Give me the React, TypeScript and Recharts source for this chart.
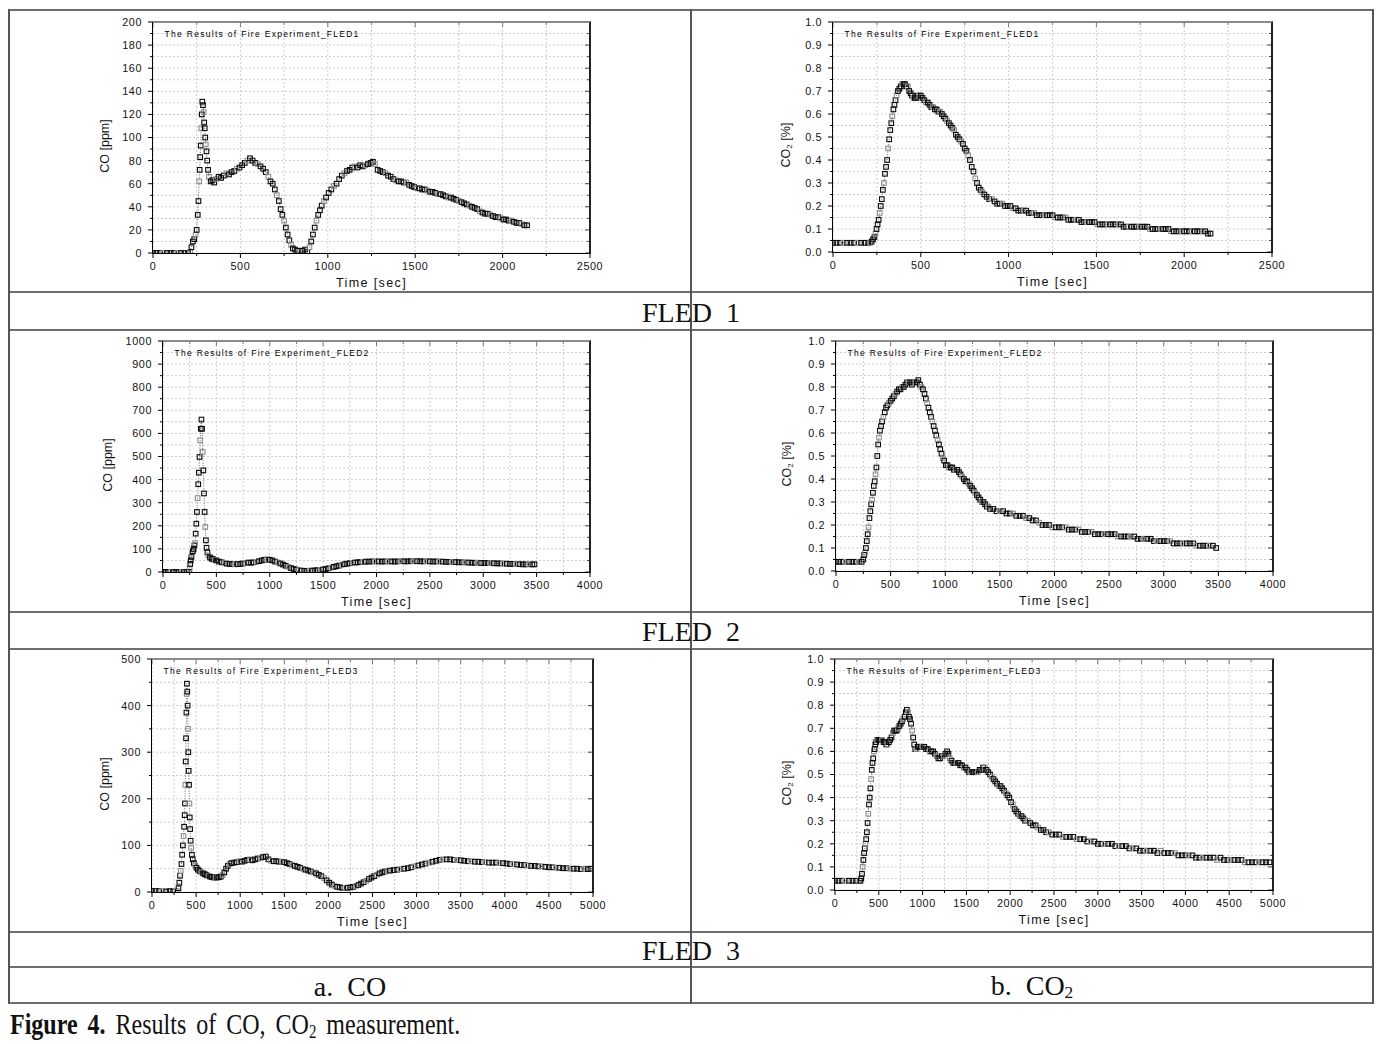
import { LineChart, Line, XAxis, YAxis, CartesianGrid } from "recharts";

type Pt = [number, number];

// time [sec], CO [ppm] / CO2 [%]
const fled1Co: Pt[] = [
  [0, 0], [20, 0], [40, 0], [60, 0], [80, 0], [100, 0], [120, 0], [140, 0], [160, 0], [180, 0], [200, 0], [212, 1],
  [220, 5], [228, 10], [236, 12], [244, 16], [250, 20], [256, 33], [260, 45], [264, 62], [267, 72], [270, 83],
  [273, 93], [276, 108], [279, 120], [282, 131], [286, 128], [290, 122], [293, 113], [296, 108], [299, 100],
  [302, 94], [306, 88], [310, 80], [315, 72], [320, 66], [330, 62], [340, 63], [350, 61], [360, 64], [375, 66],
  [390, 65], [405, 67], [420, 69], [435, 68], [450, 70], [465, 71], [480, 73], [495, 74], [510, 76], [525, 78],
  [540, 80], [555, 82], [570, 80], [585, 78], [600, 77], [615, 75], [630, 73], [645, 70], [660, 66], [672, 62],
  [685, 60], [697, 55], [708, 50], [720, 45], [730, 38], [740, 33], [750, 28], [760, 22], [770, 16], [780, 11],
  [790, 7], [800, 4], [812, 3], [825, 2], [840, 1], [855, 2], [870, 3], [883, 1], [895, 5], [905, 10], [915, 16],
  [925, 22], [935, 28], [945, 33], [955, 37], [965, 41], [978, 45], [990, 48], [1005, 52], [1020, 55], [1035, 58],
  [1050, 60], [1065, 64], [1080, 67], [1095, 69], [1110, 71], [1125, 72], [1140, 74], [1155, 75], [1170, 74],
  [1185, 76], [1200, 75], [1215, 76], [1230, 77], [1245, 78], [1258, 79], [1270, 77], [1285, 72], [1300, 71],
  [1315, 70], [1330, 69], [1345, 67], [1360, 66], [1375, 64], [1390, 63], [1405, 62], [1420, 62], [1435, 61],
  [1450, 61], [1465, 59], [1480, 58], [1495, 57], [1510, 56], [1525, 56], [1540, 55], [1555, 55], [1570, 54],
  [1585, 53], [1600, 53], [1615, 52], [1630, 51], [1645, 51], [1660, 50], [1675, 49], [1690, 48], [1705, 48],
  [1720, 47], [1735, 46], [1750, 45], [1765, 44], [1780, 43], [1795, 42], [1810, 41], [1825, 40], [1840, 39],
  [1855, 38], [1870, 36], [1885, 35], [1900, 34], [1915, 34], [1930, 33], [1945, 32], [1960, 31], [1975, 31],
  [1990, 30], [2005, 29], [2020, 29], [2035, 28], [2050, 28], [2065, 27], [2080, 26], [2095, 26], [2110, 25],
  [2125, 24], [2140, 24],
];

const fled1Co2: Pt[] = [
  [0, 0.04], [20, 0.04], [40, 0.04], [60, 0.04], [80, 0.04], [100, 0.04], [120, 0.04], [140, 0.04], [160, 0.04],
  [180, 0.04], [200, 0.04], [212, 0.04], [220, 0.045], [228, 0.055], [236, 0.065], [242, 0.08], [248, 0.1],
  [254, 0.12], [260, 0.14], [266, 0.17], [272, 0.2], [278, 0.23], [284, 0.27], [290, 0.3], [296, 0.34], [302, 0.37],
  [308, 0.4], [314, 0.45], [320, 0.49], [326, 0.53], [332, 0.56], [338, 0.59], [344, 0.62], [350, 0.64], [356, 0.66],
  [362, 0.68], [370, 0.7], [378, 0.71], [386, 0.72], [394, 0.73], [402, 0.73], [410, 0.73], [418, 0.72], [426, 0.72],
  [434, 0.7], [442, 0.69], [450, 0.68], [458, 0.67], [466, 0.67], [474, 0.67], [482, 0.68], [491, 0.68], [500, 0.68],
  [510, 0.67], [520, 0.66], [530, 0.65], [540, 0.65], [550, 0.64], [560, 0.63], [570, 0.63], [580, 0.62], [590, 0.62],
  [600, 0.61], [610, 0.61], [620, 0.6], [630, 0.59], [640, 0.58], [650, 0.57], [660, 0.56], [670, 0.55], [680, 0.54],
  [690, 0.53], [700, 0.51], [710, 0.5], [720, 0.49], [730, 0.48], [740, 0.47], [750, 0.45], [760, 0.44], [770, 0.42],
  [780, 0.4], [790, 0.37], [800, 0.35], [810, 0.32], [820, 0.3], [830, 0.28], [840, 0.27], [850, 0.26], [862, 0.25],
  [875, 0.24], [890, 0.23], [905, 0.23], [920, 0.22], [935, 0.21], [950, 0.21], [965, 0.21], [980, 0.2], [995, 0.2],
  [1010, 0.2], [1025, 0.19], [1040, 0.19], [1055, 0.18], [1070, 0.18], [1085, 0.18], [1100, 0.18], [1115, 0.17],
  [1130, 0.17], [1145, 0.17], [1160, 0.16], [1175, 0.16], [1190, 0.16], [1205, 0.16], [1220, 0.16], [1235, 0.16],
  [1250, 0.16], [1265, 0.15], [1280, 0.15], [1295, 0.15], [1310, 0.15], [1325, 0.15], [1340, 0.14], [1355, 0.14],
  [1370, 0.14], [1385, 0.14], [1400, 0.14], [1415, 0.13], [1430, 0.13], [1445, 0.13], [1460, 0.13], [1475, 0.13],
  [1490, 0.13], [1505, 0.12], [1520, 0.12], [1535, 0.12], [1550, 0.12], [1565, 0.12], [1580, 0.12], [1595, 0.12],
  [1610, 0.12], [1625, 0.12], [1640, 0.12], [1655, 0.11], [1670, 0.11], [1685, 0.11], [1700, 0.11], [1715, 0.11],
  [1730, 0.11], [1745, 0.11], [1760, 0.11], [1775, 0.11], [1790, 0.11], [1805, 0.1], [1820, 0.1], [1835, 0.1],
  [1850, 0.1], [1865, 0.1], [1880, 0.1], [1895, 0.1], [1910, 0.1], [1925, 0.09], [1940, 0.09], [1955, 0.09],
  [1970, 0.09], [1985, 0.09], [2000, 0.09], [2015, 0.09], [2030, 0.09], [2045, 0.09], [2060, 0.09], [2075, 0.09],
  [2090, 0.09], [2105, 0.09], [2120, 0.09], [2135, 0.08], [2150, 0.08],
];

const fled2Co: Pt[] = [
  [0, 0], [25, 0], [50, 0], [75, 0], [100, 0], [125, 0], [150, 0], [175, 0], [200, 0], [225, 0], [244, 1], [250, 14],
  [255, 35], [260, 50], [266, 65], [272, 79], [280, 90], [287, 100], [294, 115], [300, 125], [306, 166], [312, 209],
  [318, 260], [324, 320], [330, 380], [336, 430], [342, 498], [348, 570], [354, 620], [360, 660], [366, 620],
  [372, 520], [378, 440], [384, 340], [390, 260], [396, 195], [402, 137], [408, 105], [416, 85], [425, 72], [440, 63],
  [455, 58], [470, 55], [485, 52], [500, 50], [525, 45], [550, 42], [575, 38], [600, 36], [625, 35], [650, 34],
  [675, 33], [700, 34], [725, 35], [750, 37], [775, 39], [800, 41], [825, 40], [850, 42], [875, 44], [900, 47],
  [925, 50], [950, 53], [975, 55], [1000, 53], [1025, 50], [1050, 45], [1075, 41], [1100, 37], [1125, 32], [1150, 27],
  [1175, 22], [1200, 17], [1225, 13], [1250, 10], [1275, 8], [1300, 6], [1325, 5], [1350, 5], [1375, 6], [1400, 6],
  [1425, 7], [1450, 8], [1475, 9], [1500, 11], [1525, 13], [1550, 16], [1575, 19], [1600, 22], [1625, 25], [1650, 28],
  [1675, 31], [1700, 34], [1725, 36], [1750, 38], [1775, 40], [1800, 41], [1825, 42], [1850, 43], [1875, 44],
  [1900, 45], [1930, 45], [1960, 46], [1990, 45], [2020, 46], [2050, 45], [2080, 46], [2110, 45], [2140, 46],
  [2170, 45], [2200, 46], [2230, 47], [2260, 46], [2290, 46], [2320, 47], [2350, 46], [2380, 47], [2410, 46],
  [2440, 46], [2470, 47], [2500, 46], [2530, 45], [2560, 46], [2590, 45], [2620, 45], [2650, 44], [2680, 44],
  [2710, 43], [2740, 43], [2770, 42], [2800, 42], [2830, 41], [2860, 41], [2890, 40], [2920, 40], [2950, 40],
  [2980, 39], [3010, 39], [3040, 39], [3070, 38], [3100, 38], [3130, 37], [3160, 37], [3190, 36], [3220, 36],
  [3250, 35], [3280, 35], [3310, 34], [3340, 34], [3370, 33], [3400, 33], [3430, 33], [3460, 33], [3480, 33],
];

const fled2Co2: Pt[] = [
  [0, 0.04], [30, 0.04], [60, 0.04], [90, 0.04], [120, 0.04], [150, 0.04], [180, 0.04], [210, 0.04], [235, 0.04],
  [250, 0.05], [258, 0.07], [266, 0.08], [274, 0.1], [282, 0.13], [290, 0.16], [298, 0.19], [306, 0.23], [314, 0.26],
  [322, 0.29], [330, 0.31], [338, 0.34], [346, 0.37], [354, 0.39], [362, 0.42], [370, 0.45], [378, 0.5], [386, 0.55],
  [394, 0.58], [402, 0.61], [412, 0.63], [422, 0.65], [434, 0.67], [446, 0.69], [458, 0.71], [470, 0.72], [485, 0.73],
  [500, 0.74], [515, 0.75], [530, 0.76], [545, 0.77], [560, 0.78], [575, 0.79], [590, 0.79], [605, 0.8], [620, 0.8],
  [635, 0.81], [650, 0.82], [665, 0.82], [680, 0.82], [695, 0.81], [710, 0.82], [725, 0.82], [740, 0.82], [754, 0.83],
  [768, 0.81], [782, 0.8], [796, 0.79], [810, 0.77], [822, 0.75], [834, 0.73], [846, 0.71], [858, 0.69], [870, 0.67],
  [882, 0.65], [894, 0.63], [906, 0.61], [918, 0.59], [930, 0.57], [942, 0.55], [954, 0.53], [966, 0.51], [978, 0.49],
  [990, 0.48], [1005, 0.46], [1020, 0.46], [1035, 0.45], [1050, 0.45], [1065, 0.45], [1080, 0.44], [1095, 0.44],
  [1110, 0.44], [1125, 0.43], [1140, 0.42], [1155, 0.41], [1170, 0.4], [1185, 0.39], [1200, 0.39], [1215, 0.38],
  [1230, 0.37], [1245, 0.36], [1260, 0.35], [1275, 0.34], [1290, 0.33], [1305, 0.32], [1320, 0.31], [1335, 0.3],
  [1350, 0.3], [1365, 0.29], [1380, 0.28], [1395, 0.28], [1410, 0.27], [1440, 0.27], [1470, 0.26], [1500, 0.26],
  [1530, 0.26], [1560, 0.25], [1590, 0.25], [1620, 0.25], [1650, 0.24], [1680, 0.24], [1710, 0.24], [1740, 0.23],
  [1770, 0.23], [1800, 0.22], [1830, 0.22], [1860, 0.21], [1890, 0.2], [1920, 0.2], [1950, 0.2], [1980, 0.19],
  [2010, 0.19], [2040, 0.19], [2070, 0.19], [2100, 0.19], [2130, 0.18], [2160, 0.18], [2190, 0.18], [2220, 0.18],
  [2250, 0.17], [2280, 0.17], [2310, 0.17], [2340, 0.17], [2370, 0.16], [2400, 0.16], [2430, 0.16], [2460, 0.16],
  [2490, 0.16], [2520, 0.16], [2550, 0.16], [2580, 0.15], [2610, 0.15], [2640, 0.15], [2670, 0.15], [2700, 0.15],
  [2730, 0.15], [2760, 0.14], [2790, 0.14], [2820, 0.14], [2850, 0.14], [2880, 0.14], [2910, 0.13], [2940, 0.13],
  [2970, 0.13], [3000, 0.13], [3030, 0.13], [3060, 0.13], [3090, 0.12], [3120, 0.12], [3150, 0.12], [3180, 0.12],
  [3210, 0.12], [3240, 0.12], [3270, 0.12], [3300, 0.11], [3330, 0.11], [3360, 0.11], [3390, 0.11], [3420, 0.11],
  [3450, 0.11], [3480, 0.1],
];

const fled3Co: Pt[] = [
  [0, 2], [40, 2], [80, 2], [120, 2], [160, 1], [200, 2], [240, 1], [280, 2], [300, 8], [310, 20], [318, 35],
  [326, 45], [334, 60], [342, 80], [350, 100], [358, 120], [364, 140], [370, 165], [374, 190], [378, 230], [382, 280],
  [386, 330], [390, 385], [393, 425], [396, 447], [400, 430], [404, 400], [408, 350], [412, 300], [416, 260],
  [420, 230], [424, 190], [428, 160], [432, 135], [438, 110], [444, 95], [452, 80], [462, 70], [475, 62], [490, 57],
  [505, 52], [520, 48], [540, 45], [560, 42], [580, 40], [600, 38], [620, 36], [640, 34], [660, 33], [680, 32],
  [700, 31], [720, 31], [740, 31], [760, 32], [780, 33], [800, 36], [820, 42], [840, 50], [860, 56], [880, 60],
  [900, 62], [930, 63], [960, 64], [990, 66], [1020, 65], [1050, 67], [1080, 69], [1110, 70], [1140, 68], [1170, 70],
  [1200, 72], [1230, 73], [1260, 75], [1290, 76], [1320, 70], [1350, 67], [1380, 66], [1410, 66], [1440, 65],
  [1470, 65], [1500, 64], [1530, 62], [1560, 60], [1590, 58], [1620, 56], [1650, 54], [1680, 52], [1710, 50],
  [1740, 48], [1770, 46], [1800, 44], [1830, 42], [1860, 40], [1890, 37], [1920, 34], [1950, 30], [1980, 25],
  [2010, 20], [2040, 16], [2070, 13], [2100, 11], [2130, 10], [2160, 9], [2190, 9], [2220, 9], [2250, 10], [2280, 11],
  [2310, 13], [2340, 15], [2370, 18], [2400, 21], [2430, 24], [2460, 28], [2490, 31], [2520, 34], [2550, 37],
  [2580, 40], [2610, 42], [2640, 44], [2670, 45], [2700, 46], [2740, 47], [2780, 48], [2820, 49], [2860, 50],
  [2900, 51], [2940, 53], [2980, 55], [3020, 57], [3060, 59], [3100, 61], [3140, 63], [3180, 65], [3220, 67],
  [3260, 69], [3300, 70], [3340, 70], [3380, 70], [3420, 69], [3460, 69], [3500, 68], [3540, 67], [3580, 66],
  [3620, 66], [3660, 65], [3700, 65], [3740, 64], [3780, 64], [3820, 63], [3860, 63], [3900, 63], [3940, 62],
  [3980, 62], [4020, 61], [4060, 60], [4100, 60], [4140, 59], [4180, 58], [4220, 58], [4260, 57], [4300, 56],
  [4340, 56], [4380, 55], [4420, 55], [4460, 54], [4500, 53], [4540, 53], [4580, 52], [4620, 52], [4660, 51],
  [4700, 51], [4740, 50], [4780, 50], [4820, 50], [4860, 49], [4900, 50], [4940, 49], [4970, 50],
];

const fled3Co2: Pt[] = [
  [0, 0.04], [40, 0.04], [80, 0.04], [120, 0.04], [160, 0.04], [200, 0.04], [240, 0.04], [280, 0.04], [290, 0.04],
  [300, 0.05], [308, 0.07], [316, 0.1], [324, 0.13], [332, 0.16], [340, 0.18], [348, 0.2], [356, 0.22], [364, 0.25],
  [372, 0.29], [380, 0.33], [388, 0.37], [396, 0.4], [404, 0.44], [412, 0.48], [420, 0.52], [428, 0.55], [436, 0.57],
  [444, 0.6], [452, 0.61], [460, 0.63], [470, 0.64], [480, 0.65], [495, 0.65], [510, 0.65], [525, 0.65], [540, 0.65],
  [555, 0.64], [570, 0.64], [585, 0.63], [600, 0.63], [615, 0.64], [630, 0.65], [645, 0.66], [660, 0.68], [675, 0.69],
  [690, 0.69], [705, 0.69], [720, 0.7], [735, 0.71], [750, 0.72], [765, 0.73], [780, 0.74], [795, 0.75], [808, 0.77],
  [820, 0.78], [832, 0.77], [844, 0.75], [856, 0.74], [868, 0.72], [880, 0.69], [892, 0.66], [904, 0.63], [916, 0.61],
  [930, 0.61], [945, 0.62], [960, 0.62], [980, 0.62], [1000, 0.62], [1020, 0.62], [1040, 0.61], [1060, 0.61],
  [1080, 0.6], [1100, 0.6], [1120, 0.6], [1140, 0.59], [1160, 0.58], [1180, 0.57], [1200, 0.57], [1220, 0.58],
  [1240, 0.58], [1260, 0.59], [1280, 0.6], [1295, 0.59], [1310, 0.57], [1330, 0.56], [1350, 0.55], [1370, 0.55],
  [1390, 0.55], [1410, 0.55], [1430, 0.54], [1450, 0.54], [1470, 0.53], [1490, 0.53], [1510, 0.52], [1530, 0.51],
  [1550, 0.51], [1570, 0.51], [1590, 0.51], [1610, 0.51], [1630, 0.51], [1650, 0.52], [1670, 0.52], [1690, 0.53],
  [1710, 0.53], [1730, 0.52], [1750, 0.51], [1770, 0.5], [1790, 0.49], [1810, 0.48], [1830, 0.47], [1850, 0.46],
  [1870, 0.45], [1890, 0.45], [1910, 0.44], [1930, 0.43], [1950, 0.42], [1970, 0.41], [1990, 0.4], [2010, 0.38],
  [2030, 0.37], [2050, 0.35], [2070, 0.34], [2090, 0.33], [2110, 0.32], [2130, 0.32], [2150, 0.31], [2170, 0.3],
  [2200, 0.3], [2230, 0.29], [2260, 0.28], [2290, 0.28], [2320, 0.27], [2350, 0.26], [2380, 0.26], [2410, 0.25],
  [2440, 0.25], [2480, 0.24], [2520, 0.24], [2560, 0.24], [2600, 0.23], [2640, 0.23], [2680, 0.23], [2720, 0.23],
  [2760, 0.22], [2800, 0.22], [2840, 0.22], [2880, 0.21], [2920, 0.21], [2960, 0.21], [3000, 0.2], [3040, 0.2],
  [3080, 0.2], [3120, 0.2], [3160, 0.2], [3200, 0.19], [3240, 0.19], [3280, 0.19], [3320, 0.19], [3360, 0.18],
  [3400, 0.18], [3440, 0.18], [3480, 0.17], [3520, 0.17], [3560, 0.17], [3600, 0.17], [3640, 0.17], [3680, 0.16],
  [3720, 0.17], [3760, 0.16], [3800, 0.16], [3840, 0.16], [3880, 0.16], [3920, 0.15], [3960, 0.15], [4000, 0.15],
  [4040, 0.15], [4080, 0.15], [4120, 0.14], [4160, 0.14], [4200, 0.14], [4240, 0.14], [4280, 0.14], [4320, 0.14],
  [4360, 0.13], [4400, 0.14], [4440, 0.13], [4480, 0.13], [4520, 0.13], [4560, 0.13], [4600, 0.13], [4640, 0.13],
  [4680, 0.12], [4720, 0.12], [4760, 0.12], [4800, 0.12], [4840, 0.12], [4880, 0.12], [4920, 0.12], [4960, 0.12],
];

// axis ticks (major + minor)
const xTicks2500 = [0, 250, 500, 750, 1000, 1250, 1500, 1750, 2000, 2250, 2500];
const xTicks4000 = [0, 250, 500, 750, 1000, 1250, 1500, 1750, 2000, 2250, 2500, 2750, 3000, 3250, 3500, 3750, 4000];
const xTicks5000 = [
  0, 250, 500, 750, 1000, 1250, 1500, 1750, 2000, 2250, 2500, 2750, 3000, 3250, 3500, 3750, 4000, 4250, 4500, 4750, 5000,
];
const coTicks200 = [0, 10, 20, 30, 40, 50, 60, 70, 80, 90, 100, 110, 120, 130, 140, 150, 160, 170, 180, 190, 200];
const coTicks1000 = [0, 50, 100, 150, 200, 250, 300, 350, 400, 450, 500, 550, 600, 650, 700, 750, 800, 850, 900, 950, 1000];
const coTicks500 = [0, 50, 100, 150, 200, 250, 300, 350, 400, 450, 500];
const co2Ticks = [
  0, 0.05, 0.1, 0.15, 0.2, 0.25, 0.3, 0.35, 0.4, 0.45, 0.5, 0.55, 0.6, 0.65, 0.7, 0.75, 0.8, 0.85, 0.9, 0.95, 1.0,
];

const rowLabels = ["FLED\u00a0\u00a01", "FLED\u00a0\u00a02", "FLED\u00a0\u00a03"];

const SANS = '"Liberation Sans", Arial, sans-serif';
const SERIF = '"Liberation Serif", "Times New Roman", serif';

interface PanelSpec {
  id: string;
  data: Pt[];
  title: string;
  co2: boolean;
  xMax: number;
  xTicks: number[];
  yMax: number;
  yTicks: number[];
  yStep: number;
  px: number;
  py: number;
  pw: number;
  ph: number;
  yLabelDx: number;
}

const panels: PanelSpec[] = [
  { id: "a1", data: fled1Co, title: "The Results of Fire Experiment_FLED1", co2: false, xMax: 2500, xTicks: xTicks2500, yMax: 200, yTicks: coTicks200, yStep: 20, px: 153, py: 22, pw: 437, ph: 231, yLabelDx: -48 },
  { id: "b1", data: fled1Co2, title: "The Results of Fire Experiment_FLED1", co2: true, xMax: 2500, xTicks: xTicks2500, yMax: 1, yTicks: co2Ticks, yStep: 0.1, px: 833, py: 22, pw: 439, ph: 230, yLabelDx: -46 },
  { id: "a2", data: fled2Co, title: "The Results of Fire Experiment_FLED2", co2: false, xMax: 4000, xTicks: xTicks4000, yMax: 1000, yTicks: coTicks1000, yStep: 100, px: 163, py: 341, pw: 427, ph: 231, yLabelDx: -55 },
  { id: "b2", data: fled2Co2, title: "The Results of Fire Experiment_FLED2", co2: true, xMax: 4000, xTicks: xTicks4000, yMax: 1, yTicks: co2Ticks, yStep: 0.1, px: 836, py: 341, pw: 437, ph: 230, yLabelDx: -48 },
  { id: "a3", data: fled3Co, title: "The Results of Fire Experiment_FLED3", co2: false, xMax: 5000, xTicks: xTicks5000, yMax: 500, yTicks: coTicks500, yStep: 100, px: 152, py: 659, pw: 441, ph: 233, yLabelDx: -47 },
  { id: "b3", data: fled3Co2, title: "The Results of Fire Experiment_FLED3", co2: true, xMax: 5000, xTicks: xTicks5000, yMax: 1, yTicks: co2Ticks, yStep: 0.1, px: 835, py: 659, pw: 438, ph: 231, yLabelDx: -47 },
];

const squareDot = (props: any) => {
  const { cx, cy, index } = props;
  if (cx == null || cy == null) return <g key={index} />;
  return (
    <rect
      key={index}
      x={cx - 2.3}
      y={cy - 2.3}
      width={4.6}
      height={4.6}
      fill="none"
      stroke={index % 4 === 3 ? "#8c8c8c" : "#0a0a0a"}
      strokeWidth={1.1}
    />
  );
};

function Panel({ spec }: { spec: PanelSpec }) {
  const { px, py, pw, ph } = spec;
  const ml = 60, mt = 10, mr = 24, mb = 40;
  const rows = spec.data.map(([t, v]) => ({ t, v }));
  const majorX = (v: number) => v % 500 === 0;
  const majorY = (v: number) => Math.abs(v / spec.yStep - Math.round(v / spec.yStep)) < 1e-6;
  const fmtY = (v: number) => (spec.co2 ? v.toFixed(1) : String(Math.round(v)));

  // bottom ticks also mirror onto the top frame
  const bottomTick = (p: any) => {
    const v = Number(p.payload.value);
    const m = majorX(v);
    const len = m ? 5 : 3;
    return (
      <g>
        <line x1={p.x} x2={p.x} y1={p.y} y2={p.y + len} stroke="#000" strokeWidth={1} />
        <line x1={p.x} x2={p.x} y1={p.y - ph} y2={p.y - ph + len} stroke="#777" strokeWidth={1} />
        {m && (
          <text x={p.x} y={p.y + 16.5} textAnchor="middle" fontSize={10.8} letterSpacing={0.6} fontFamily={SANS} fill="#111">
            {v}
          </text>
        )}
      </g>
    );
  };
  // left ticks also mirror onto the right frame
  const leftTick = (p: any) => {
    const v = Number(p.payload.value);
    const m = majorY(v);
    const len = m ? 5 : 3;
    return (
      <g>
        <line x1={p.x - len} x2={p.x} y1={p.y} y2={p.y} stroke="#000" strokeWidth={1} />
        <line x1={p.x + pw - len} x2={p.x + pw} y1={p.y} y2={p.y} stroke="#444" strokeWidth={1} />
        {m && (
          <text x={p.x - 11} y={p.y + 3.9} textAnchor="end" fontSize={10.8} letterSpacing={0.6} fontFamily={SANS} fill="#111">
            {fmtY(v)}
          </text>
        )}
      </g>
    );
  };

  return (
    <>
      <div style={{ position: "absolute", left: px - ml, top: py - mt }}>
        <LineChart width={pw + ml + mr} height={ph + mt + mb} data={rows} margin={{ top: mt, right: mr, bottom: 0, left: 0 }}>
          <CartesianGrid stroke="#cdcdcd" strokeDasharray="2 2" />
          <XAxis
            dataKey="t"
            type="number"
            domain={[0, spec.xMax]}
            allowDataOverflow
            ticks={spec.xTicks}
            interval={0}
            height={mb}
            tickSize={0}
            tickMargin={0}
            tickLine={false}
            axisLine={false}
            tick={bottomTick}
          />
          <YAxis
            type="number"
            domain={[0, spec.yMax]}
            allowDataOverflow
            ticks={spec.yTicks}
            interval={0}
            width={ml}
            tickSize={0}
            tickMargin={0}
            tickLine={false}
            axisLine={false}
            tick={leftTick}
          />
          <Line
            type="linear"
            dataKey="v"
            stroke="#444"
            strokeWidth={0.8}
            strokeDasharray="1 1.5"
            dot={squareDot}
            activeDot={false}
            isAnimationActive={false}
          />
        </LineChart>
      </div>
      {/* plot frame */}
      <div
        style={{
          position: "absolute",
          left: px - 1,
          top: py - 1,
          width: pw + 2,
          height: ph + 2,
          boxSizing: "border-box",
          borderTop: "2px solid #8a8a8a",
          borderRight: "2px solid #222",
          borderLeft: "1.5px solid #000",
          borderBottom: "1.5px solid #000",
          pointerEvents: "none",
        }}
      />
      <div
        style={{
          position: "absolute",
          left: px + 11.5,
          top: py + 8,
          fontFamily: SANS,
          fontSize: 8.5,
          lineHeight: 1,
          letterSpacing: 1.3,
          color: "#000",
          whiteSpace: "nowrap",
        }}
      >
        {spec.title}
      </div>
      <div
        style={{
          position: "absolute",
          left: px + spec.yLabelDx,
          top: py + ph / 2 + 8,
          transform: "translate(-50%, -50%) rotate(-90deg)",
          fontFamily: SANS,
          fontSize: 12.5,
          lineHeight: 1,
          color: "#111",
          whiteSpace: "nowrap",
        }}
      >
        {spec.co2 ? (
          <>
            CO<sub style={{ fontSize: "0.65em", verticalAlign: "-0.25em" }}>2</sub> [%]
          </>
        ) : (
          "CO [ppm]"
        )}
      </div>
      <div
        style={{
          position: "absolute",
          left: px + pw / 2,
          top: py + ph + 30,
          transform: "translate(-50%, -50%)",
          fontFamily: SANS,
          fontSize: 12.5,
          lineHeight: 1,
          letterSpacing: 1.4,
          color: "#111",
          whiteSpace: "nowrap",
        }}
      >
        Time [sec]
      </div>
    </>
  );
}

const hLines = [10, 292, 330, 612, 649, 932, 967, 1003];
const rowBands: [number, number][] = [[292, 330], [612, 649], [932, 967]];

export default function App() {
  return (
    <div style={{ position: "absolute", left: 0, top: 0, width: 1393, height: 1044, background: "#fff", overflow: "hidden" }}>
      {hLines.map((y, i) => (
        <div key={"h" + i} style={{ position: "absolute", left: 9, top: y - 1, width: 1365, height: 2, background: "#6e6e6e" }} />
      ))}
      {[9, 691, 1373].map((x, i) => (
        <div key={"v" + i} style={{ position: "absolute", left: x - 0.75, top: 9, width: 1.5, height: 995, background: "#555" }} />
      ))}
      {panels.map((p) => (
        <Panel key={p.id} spec={p} />
      ))}
      {rowBands.map(([a, b], i) => (
        <div
          key={"r" + i}
          style={{
            position: "absolute",
            left: 9,
            width: 1364,
            top: a,
            height: b - a,
            paddingTop: 3,
            boxSizing: "border-box",
            display: "flex",
            alignItems: "center",
            justifyContent: "center",
            fontFamily: SERIF,
            fontSize: 28,
            color: "#111",
          }}
        >
          {rowLabels[i]}
        </div>
      ))}
      <div
        style={{
          position: "absolute",
          left: 9,
          width: 682,
          top: 967,
          height: 36,
          paddingTop: 3,
          boxSizing: "border-box",
          display: "flex",
          alignItems: "center",
          justifyContent: "center",
          fontFamily: SERIF,
          fontSize: 28,
          color: "#111",
        }}
      >
        a.&nbsp;&nbsp;CO
      </div>
      <div
        style={{
          position: "absolute",
          left: 691,
          width: 682,
          top: 967,
          height: 36,
          paddingTop: 3,
          boxSizing: "border-box",
          display: "flex",
          alignItems: "center",
          justifyContent: "center",
          fontFamily: SERIF,
          fontSize: 28,
          color: "#111",
        }}
      >
        <span>
          b.&nbsp;&nbsp;CO<sub style={{ fontSize: "0.62em", verticalAlign: "-0.2em" }}>2</sub>
        </span>
      </div>
      <div
        style={{
          position: "absolute",
          left: 10,
          top: 1009,
          fontFamily: SERIF,
          fontSize: 30,
          lineHeight: 1,
          wordSpacing: 5,
          color: "#111",
          whiteSpace: "nowrap",
          transform: "scaleX(0.8)",
          transformOrigin: "left top",
        }}
      >
        <b>Figure 4.</b> Results of CO, CO<sub style={{ fontSize: "0.62em", verticalAlign: "-0.2em" }}>2</sub> measurement.
      </div>
    </div>
  );
}
